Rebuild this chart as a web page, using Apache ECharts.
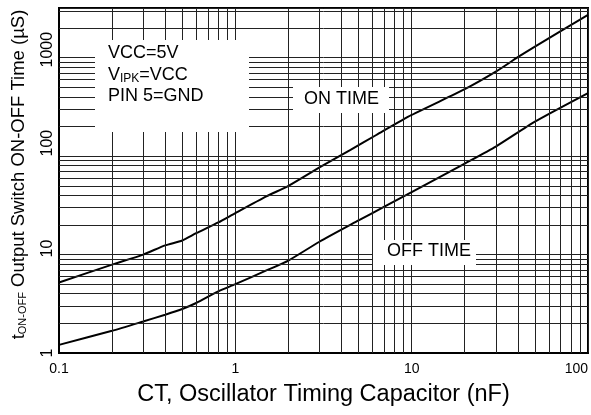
<!DOCTYPE html>
<html>
<head>
<meta charset="utf-8">
<script src="https://cdn.jsdelivr.net/npm/echarts@6/dist/echarts.min.js"></script>
<style>
html,body{margin:0;padding:0;background:#fff;}
#c{width:591px;height:415px;}
</style>
</head>
<body>
<div id="c"></div>
<script>
// ON TIME curve
const capOn = [0.1, 0.2, 0.3, 0.4, 0.5, 0.6, 0.8, 1, 1.5, 2, 3, 4.5, 6.3, 10, 20, 30, 40, 50, 100];
const onTime = [5.2, 7.9, 10, 12.4, 13.9, 16.5, 21.2, 26.4, 39, 50, 77, 116, 164, 262, 479, 722, 1012, 1297, 2720];
// OFF TIME curve
const capOff = [0.1, 0.2, 0.3, 0.4, 0.5, 0.6, 0.8, 1, 1.5, 2, 3, 5, 7, 10, 20, 30, 50, 100];
const offTime = [1.21, 1.68, 2.09, 2.45, 2.8, 3.22, 4.22, 5.0, 6.9, 8.7, 13.5, 22.2, 30.7, 43, 84, 125, 224, 437];
// tick labels
const xTickLabels = ['0.1', '1', '10', '100'];
const yTickLabels = ['1', '10', '100', '1000'];
// minor grid values
const minorX = [0.2, 0.3, 0.4, 0.5, 0.6, 0.7, 0.8, 0.9, 2, 3, 4, 5, 6, 7, 8, 9, 20, 30, 40, 50, 60, 70, 80, 90];
const minorY = [2, 3, 4, 5, 6, 7, 8, 9, 20, 30, 40, 50, 60, 70, 80, 90, 200, 300, 400, 500, 600, 700, 800, 900, 2000, 3000];

const FONT = 'Liberation Sans, Arial, sans-serif';
const chart = echarts.init(document.getElementById('c'), null, {renderer: 'canvas'});

function nearDecade(v, labels) {
  for (const l of labels) {
    const n = parseFloat(l);
    if (Math.abs(Math.log10(v) - Math.log10(n)) < 0.01) return l;
  }
  return null;
}

const yPad = {'1': 0, '10': 12, '100': 26, '1000': 16};
const yRich = {};
for (const l of yTickLabels) {
  yRich['p' + l] = {fontSize: 16, fontFamily: FONT, color: '#000', padding: [0, 0, 0, yPad[l]]};
}

const option = {
  animation: false,
  backgroundColor: '#fff',
  grid: {left: 59, right: 0, top: 8, bottom: 62, show: true, borderColor: '#000', borderWidth: 2, backgroundColor: 'transparent'},
  xAxis: {
    type: 'log', logBase: 10, min: 0.1, max: 100,
    name: 'CT, Oscillator Timing Capacitor (nF)',
    nameLocation: 'middle', nameGap: 30,
    nameTextStyle: {fontSize: 23.5, fontFamily: FONT, color: '#000'},
    axisLine: {show: true, lineStyle: {color: '#000', width: 2}},
    axisTick: {show: false},
    axisLabel: {
      margin: 9, fontSize: 14, fontFamily: FONT, color: '#000',
      alignMaxLabel: 'right',
      formatter: v => nearDecade(v, xTickLabels) || ''
    },
    splitLine: {show: true, lineStyle: {color: '#222', width: 1}}
  },
  yAxis: {
    type: 'log', logBase: 10, min: 1, max: 3200,
    name: '{m|t}{s|ON-OFF}{m| Output Switch ON-OFF Time (\u00B5S)}',
    nameLocation: 'middle', nameGap: 31,
    nameTextStyle: {
      fontSize: 18.5, fontFamily: FONT, color: '#000', padding: [0, 0, 0, 12],
      rich: {
        m: {fontSize: 18.5, fontFamily: FONT, color: '#000', verticalAlign: 'bottom', lineHeight: 20},
        s: {fontSize: 11, fontFamily: FONT, color: '#000', verticalAlign: 'bottom', lineHeight: 20}
      }
    },
    axisLine: {show: true, lineStyle: {color: '#000', width: 2}},
    axisTick: {show: false},
    axisLabel: {
      rotate: 90, margin: 3, fontSize: 16, fontFamily: FONT, color: '#000',
      formatter: v => { const l = nearDecade(v, yTickLabels); return l ? '{p' + l + '|' + l + '}' : ''; },
      rich: yRich
    },
    splitLine: {show: true, lineStyle: {color: '#222', width: 1}}
  },
  series: [
    {
      name: 'ON TIME', type: 'line', showSymbol: false, smooth: 0.2,
      data: capOn.map((c, i) => [c, onTime[i]]),
      lineStyle: {color: '#000', width: 2},
      markLine: {
        silent: true, symbol: ['none', 'none'], label: {show: false},
        lineStyle: {color: '#222', width: 1, type: 'solid'},
        data: minorX.map(v => ({xAxis: v})).concat(minorY.map(v => ({yAxis: v})))
      }
    },
    {
      name: 'OFF TIME', type: 'line', showSymbol: false, smooth: 0.2,
      data: capOff.map((c, i) => [c, offTime[i]]),
      lineStyle: {color: '#000', width: 2}
    }
  ],
  graphic: [
    {type: 'rect', z: 100, shape: {x: 95, y: 40, width: 154, height: 92}, style: {fill: '#fff'}},
    {type: 'rect', z: 100, shape: {x: 293, y: 87, width: 96, height: 26}, style: {fill: '#fff'}},
    {type: 'rect', z: 100, shape: {x: 373, y: 240, width: 103, height: 25}, style: {fill: '#fff'}},
    {type: 'text', z: 101, x: 108, y: 53, style: {text: 'VCC=5V', font: '18px ' + FONT, fill: '#000', verticalAlign: 'middle', align: 'left'}},
    {type: 'text', z: 101, x: 108, y: 74.5, style: {
      text: '{n|V}{s|IPK}{n|=VCC}', fill: '#000', verticalAlign: 'middle', align: 'left',
      rich: {
        n: {fontSize: 18, fontFamily: FONT, fill: '#000', verticalAlign: 'bottom', lineHeight: 20},
        s: {fontSize: 12, fontFamily: FONT, fill: '#000', verticalAlign: 'bottom', lineHeight: 18}
      }
    }},
    {type: 'text', z: 101, x: 108, y: 96, style: {text: 'PIN 5=GND', font: '18px ' + FONT, fill: '#000', verticalAlign: 'middle', align: 'left'}},
    {type: 'text', z: 101, x: 341.5, y: 99.5, style: {text: 'ON TIME', font: '18px ' + FONT, fill: '#000', verticalAlign: 'middle', align: 'center'}},
    {type: 'text', z: 101, x: 429, y: 251, style: {text: 'OFF TIME', font: '18px ' + FONT, fill: '#000', verticalAlign: 'middle', align: 'center'}}
  ]
};
chart.setOption(option);
</script>
</body>
</html>
